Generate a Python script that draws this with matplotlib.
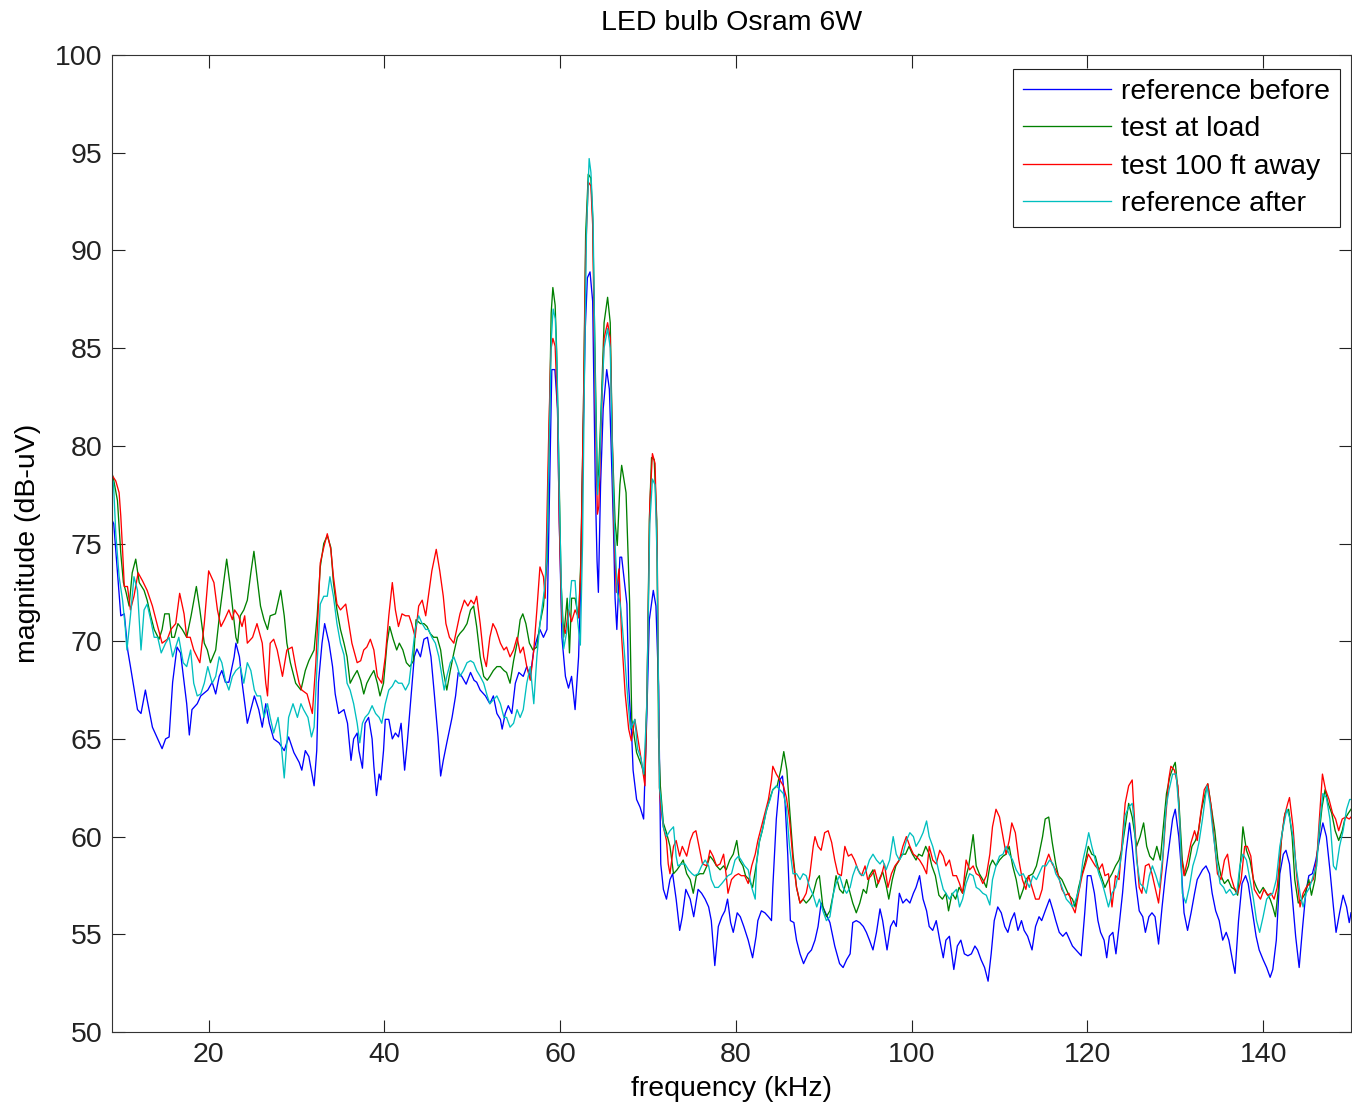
# Spectrum plot: LED bulb Osram 6W, four measurements
import matplotlib
matplotlib.use('Agg')
import matplotlib.pyplot as plt

plt.rcParams['font.family'] = ['Liberation Sans', 'DejaVu Sans']

# ---- data (kHz, dB-uV) ----
blue_khz = [9.0, 9.2, 10.0, 10.4, 10.8, 11.1, 11.9, 12.3, 12.8, 13.0, 13.6, 14.2, 14.7, 15.1, 15.5, 15.9,
            16.4, 16.8, 17.2, 17.5, 17.8, 18.1, 18.7, 19.1, 19.9, 20.4, 20.8, 21.2, 21.5, 21.9, 22.3, 22.9,
            23.1, 23.5, 23.8, 24.4, 24.8, 25.2, 25.7, 26.1, 26.5, 26.9, 27.4, 28.0, 28.6, 29.1, 29.7, 30.3,
            30.6, 31.0, 31.4, 32.0, 32.3, 32.5, 32.9, 33.2, 33.7, 34.1, 34.4, 34.8, 35.4, 35.8, 36.2, 36.5,
            36.9, 37.1, 37.5, 37.8, 38.2, 38.6, 38.8, 39.1, 39.4, 39.6, 39.9, 40.1, 40.5, 40.9, 41.25, 41.6,
            41.9, 42.3, 42.6, 43.0, 43.4, 43.7, 44.1, 44.5, 44.9, 45.3, 45.7, 46.1, 46.4, 46.7, 47.1, 47.7,
            48.1, 48.4, 48.8, 49.3, 49.8, 50.2, 50.5, 50.9, 51.5, 52.0, 52.4, 52.8, 53.2, 53.4, 53.75, 54.1,
            54.5, 54.9, 55.3, 55.8, 56.2, 56.6, 57.0, 57.35, 57.7, 58.1, 58.5, 58.8, 59.05, 59.4, 59.7, 59.9,
            60.2, 60.6, 60.95, 61.3, 61.7, 62.1, 62.3, 62.6, 62.85, 63.1, 63.4, 63.7, 64.0, 64.2, 64.35, 64.6,
            64.9, 65.3, 65.6, 65.8, 66.05, 66.25, 66.45, 66.8, 67.0, 67.6, 67.8, 68.15, 68.3, 68.7, 69.1, 69.5,
            69.85, 70.15, 70.6, 70.9, 71.2, 71.45, 71.75, 72.1, 72.5, 72.8, 73.2, 73.6, 73.9, 74.3, 74.8, 75.2,
            75.7, 76.1, 76.5, 76.9, 77.2, 77.6, 78.0, 78.4, 78.75, 79.05, 79.4, 79.7, 80.15, 80.5, 80.9, 81.4,
            81.9, 82.3, 82.5, 82.9, 83.3, 83.7, 84.05, 84.2, 84.6, 85.0, 85.3, 85.6, 85.9, 86.2, 86.6, 86.9,
            87.3, 87.7, 88.2, 88.6, 89.0, 89.35, 89.7, 90.1, 90.7, 91.25, 91.8, 92.2, 92.6, 93.0, 93.3, 93.7,
            94.1, 94.5, 94.85, 95.2, 95.6, 96.0, 96.4, 96.7, 97.2, 97.6, 97.95, 98.25, 98.6, 99.0, 99.4, 99.8,
            100.2, 100.5, 100.9, 101.3, 101.7, 102.0, 102.4, 102.8, 103.2, 103.6, 103.9, 104.3, 104.8, 105.2,
            105.6, 106.0, 106.4, 106.8, 107.2, 107.5, 107.9, 108.3, 108.7, 109.05, 109.4, 109.8, 110.2, 110.6,
            110.95, 111.3, 111.7, 112.1, 112.5, 112.8, 113.2, 113.7, 114.1, 114.5, 114.8, 115.2, 115.7, 116.1,
            116.4, 116.8, 117.2, 117.6, 118.0, 118.3, 118.7, 119.3, 119.7, 120.0, 120.4, 120.8, 121.2, 121.5,
            121.9, 122.2, 122.5, 122.9, 123.25, 123.6, 124.0, 124.4, 124.8, 125.1, 125.5, 125.9, 126.3, 126.6,
            127.0, 127.35, 127.7, 128.1, 128.5, 128.9, 129.3, 129.7, 130.0, 130.4, 130.7, 131.0, 131.4, 131.8,
            132.2, 132.5, 133.1, 133.5, 133.9, 134.2, 134.6, 135.0, 135.4, 135.8, 136.1, 136.5, 136.8, 137.2,
            137.6, 138.0, 138.3, 138.7, 139.2, 139.55, 140.0, 140.4, 140.8, 141.1, 141.5, 141.9, 142.3, 142.6,
            143.0, 143.3, 143.7, 144.1, 144.5, 144.85, 145.2, 145.6, 146.0, 146.4, 146.8, 147.2, 147.6, 148.0,
            148.3, 148.7, 149.1, 149.5, 149.8, 150.0]
blue_db = [76.2, 76.0, 71.3, 71.4, 69.5, 68.7, 66.5, 66.3, 67.5, 67.0, 65.6, 65.0, 64.5, 65.0, 65.1, 67.9,
           69.7, 69.4, 67.9, 66.8, 65.2, 66.5, 66.8, 67.2, 67.5, 67.9, 67.3, 68.2, 68.5, 67.9, 67.9, 69.2,
           69.9, 69.2, 67.9, 65.8, 66.5, 67.2, 66.5, 65.6, 66.8, 65.8, 65.0, 64.8, 64.4, 65.1, 64.3, 63.8,
           63.4, 64.4, 64.1, 62.6, 64.4, 67.9, 69.9, 70.9, 69.9, 68.7, 67.3, 66.3, 66.5, 65.8, 63.9, 65.0,
           65.3, 64.4, 63.5, 65.8, 66.1, 65.0, 63.6, 62.1, 63.2, 62.9, 64.4, 66.0, 66.0, 65.0, 65.3, 65.1,
           65.8, 63.4, 64.8, 67.0, 69.2, 69.6, 69.2, 70.1, 70.2, 69.2, 67.2, 65.1, 63.1, 63.9, 64.8, 66.1,
           67.2, 68.4, 68.2, 67.8, 68.4, 68.0, 67.9, 67.5, 67.2, 66.8, 67.2, 66.3, 66.0, 65.5, 66.3, 66.7,
           66.3, 67.85, 68.4, 68.2, 68.7, 68.2, 69.55, 70.1, 70.6, 70.2, 70.6, 78.0, 83.9, 83.9, 81.9, 76.1,
           70.2, 68.2, 67.6, 68.2, 66.5, 69.2, 72.2, 80.0, 85.9, 88.6, 88.9, 87.4, 78.0, 74.1, 72.5, 78.0,
           81.9, 83.9, 82.9, 80.0, 76.1, 72.2, 70.6, 74.3, 74.3, 71.9, 67.7, 65.1, 63.4, 61.9, 61.5, 60.9,
           66.0, 71.1, 72.6, 71.8, 67.7, 58.6, 57.3, 56.8, 57.8, 58.1, 56.8, 55.2, 55.9, 57.3, 56.8, 55.9,
           57.3, 57.1, 56.8, 56.4, 55.7, 53.4, 55.4, 55.9, 56.2, 56.8, 55.6, 55.1, 56.1, 55.9, 55.4, 54.7,
           53.8, 54.9, 55.7, 56.2, 56.1, 55.9, 55.7, 57.4, 60.9, 62.9, 63.1, 61.7, 59.1, 55.7, 55.6, 54.7,
           54.0, 53.5, 54.0, 54.2, 54.7, 55.4, 56.6, 56.2, 55.6, 54.4, 53.5, 53.3, 53.7, 54.0, 55.6, 55.7,
           55.6, 55.4, 55.1, 54.7, 54.2, 55.1, 56.3, 55.7, 54.2, 55.4, 55.7, 55.4, 57.1, 56.6, 56.8, 56.6,
           57.1, 57.4, 58.0, 56.8, 56.2, 55.4, 55.2, 55.7, 54.7, 53.8, 54.7, 54.9, 53.2, 54.4,
           54.7, 54.0, 53.9, 54.0, 54.4, 54.2, 53.7, 53.3, 52.6, 54.0, 55.7, 56.4, 56.1, 55.4,
           55.1, 55.7, 56.1, 55.2, 55.7, 55.2, 54.9, 54.2, 55.4, 55.9, 55.7, 56.2, 56.8, 56.2,
           55.7, 55.1, 54.9, 55.1, 54.7, 54.4, 54.2, 53.9, 56.1, 58.0, 58.0, 57.1, 55.7, 55.1,
           54.7, 53.8, 54.9, 55.1, 54.0, 55.4, 57.1, 59.2, 60.7, 59.5, 57.6, 56.2, 55.9, 55.1,
           55.9, 56.1, 55.9, 54.5, 56.4, 58.1, 59.5, 60.9, 61.4, 60.0, 58.3, 56.1, 55.2, 56.1,
           57.1, 57.8, 58.3, 58.5, 58.1, 57.1, 56.2, 55.7, 54.7, 55.1, 54.7, 53.7, 53.0, 55.7,
           57.6, 58.0, 57.6, 56.4, 54.9, 54.2, 53.7, 53.3, 52.8, 53.2, 54.7, 58.1, 59.1, 59.3,
           58.6, 57.0, 54.9, 53.3, 55.4, 57.1, 58.0, 58.1, 58.8, 59.8, 60.7, 60.0, 58.3, 56.4,
           55.1, 56.1, 57.0, 56.4, 55.6, 56.1]

green_khz = [9.0, 9.17, 9.62, 10.0, 10.3, 10.6, 10.95, 11.3, 11.7, 12.1, 12.65, 13.0, 13.4, 13.8, 14.35, 14.7,
             15.0, 15.5, 15.8, 16.1, 16.5, 17.0, 17.5, 18.0, 18.6, 19.0, 19.5, 19.85, 20.2, 20.8, 21.3, 21.7,
             22.05, 22.4, 22.7, 23.1, 23.3, 23.6, 24.0, 24.4, 24.8, 25.15, 25.5, 25.9, 26.3, 26.7, 27.0, 27.6,
             28.2, 28.6, 28.9, 29.3, 29.9, 30.5, 31.0, 31.4, 32.0, 32.35, 32.7, 33.1, 33.5, 33.9, 34.2, 34.6,
             35.0, 35.4, 35.75, 36.1, 36.5, 36.9, 37.3, 37.65, 38.0, 38.4, 38.8, 39.2, 39.5, 39.9, 40.3, 40.6,
             41.0, 41.4, 41.7, 42.1, 42.5, 42.9, 43.3, 43.6, 44.1, 44.5, 44.85, 45.2, 45.6, 46.0, 46.4, 46.7,
             47.1, 47.5, 47.9, 48.3, 48.6, 49.0, 49.4, 49.8, 50.15, 50.5, 50.9, 51.3, 51.7, 52.0, 52.4, 52.8,
             53.2, 53.6, 53.9, 54.3, 54.7, 55.1, 55.45, 55.75, 56.1, 56.5, 56.9, 57.35, 57.7, 58.1, 58.5, 58.8,
             58.98, 59.17, 59.43, 59.6, 59.9, 60.1, 60.4, 60.8, 61.06, 61.3, 61.7, 62.1, 62.35, 62.65, 62.9,
             63.2, 63.5, 63.7, 64.0, 64.24, 64.4, 64.66, 65.0, 65.4, 65.7, 65.95, 66.25, 66.5, 66.8, 67.0,
             67.5, 67.9, 68.15, 68.7, 69.3, 69.65, 69.9, 70.15, 70.4, 70.7, 71.0, 71.2, 71.4, 71.74, 72.1,
             72.5, 72.9, 73.3, 73.6, 74.0, 74.4, 74.8, 75.15, 75.5, 75.9, 76.3, 76.7, 77.05, 77.4, 77.8, 78.2,
             78.6, 78.9, 79.3, 79.7, 80.1, 80.4, 80.8, 81.1, 81.5, 81.9, 82.3, 82.65, 83.0, 83.4, 83.9, 84.2,
             84.7, 85.1, 85.45, 85.8, 86.1, 86.5, 86.9, 87.3, 87.65, 88.0, 88.4, 88.8, 89.2, 89.5, 89.9, 90.3,
             90.7, 91.1, 91.4, 91.8, 92.2, 92.6, 93.0, 93.3, 93.7, 94.1, 94.5, 94.85, 95.2, 95.6, 96.0, 96.4,
             96.7, 97.1, 97.4, 97.8, 98.2, 98.6, 98.9, 99.3, 99.7, 100.1, 100.5, 100.8, 101.2, 101.6, 102.0,
             102.3, 102.7, 103.1, 103.5, 103.9, 104.2, 104.6, 105.0, 105.4, 105.8, 106.1, 106.5, 107.0, 107.35,
             107.7, 108.1, 108.5, 108.9, 109.2, 109.6, 110.0, 110.4, 110.75, 111.1, 111.5, 111.9, 112.3, 112.7,
             113.0, 113.4, 113.8, 114.2, 114.5, 114.9, 115.2, 115.6, 116.0, 116.4, 116.7, 117.1, 117.5, 117.9,
             118.3, 118.6, 119.0, 119.4, 119.8, 120.1, 120.5, 120.9, 121.3, 121.7, 122.0, 122.4, 122.8, 123.2,
             123.6, 123.9, 124.3, 124.7, 125.1, 125.6, 126.0, 126.4, 126.75, 127.1, 127.5, 127.9, 128.3, 128.6,
             129.0, 129.4, 129.8, 130.0, 130.4, 130.8, 131.1, 131.5, 131.9, 132.3, 132.65, 133.0, 133.4, 133.7,
             134.1, 134.5, 134.85, 135.2, 135.6, 136.0, 136.4, 136.75, 137.1, 137.5, 137.7, 138.1, 138.5, 138.9,
             139.25, 139.6, 140.0, 140.4, 140.8, 141.1, 141.4, 141.75, 142.1, 142.5, 142.9, 143.3, 143.6, 144.0,
             144.4, 144.8, 145.2, 145.5, 145.9, 146.3, 146.7, 147.05, 147.4, 147.8, 148.2, 148.6, 149.0, 149.3,
             149.7, 150.0]
green_db = [78.6, 78.3, 77.2, 74.5, 73.0, 72.5, 71.8, 73.5, 74.2, 73.0, 72.6, 72.1, 71.3, 70.6, 70.1, 70.6,
            71.4, 71.4, 70.2, 70.2, 70.9, 70.6, 70.2, 71.3, 72.8, 71.6, 69.9, 69.55, 68.9, 69.55, 71.6, 73.0,
            74.2, 73.0, 71.8, 70.2, 69.9, 71.3, 71.6, 72.1, 73.5, 74.6, 73.3, 71.8, 71.1, 70.6, 71.3, 71.4,
            72.6, 71.3, 69.9, 68.9, 67.85, 67.5, 68.5, 69.0, 69.55, 71.3, 73.8, 75.0, 75.4, 74.8, 73.0, 71.6,
            70.6, 69.9, 69.2, 67.85, 68.2, 68.5, 68.0, 67.3, 67.85, 68.2, 68.5, 67.85, 67.2, 67.85, 69.9, 70.75,
            70.1, 69.55, 69.9, 69.55, 68.9, 68.7, 69.0, 71.1, 70.9, 70.9, 70.75, 70.4, 70.2, 70.2, 69.55, 68.5,
            67.5, 68.5, 69.4, 70.2, 70.4, 70.6, 70.9, 71.6, 71.8, 70.75, 69.2, 68.2, 68.0, 68.2, 68.5, 68.7,
            68.7, 68.5, 68.4, 67.85, 69.0, 69.9, 71.1, 71.4, 70.9, 69.9, 69.55, 69.7, 70.9, 71.8, 74.1, 81.9,
            86.8, 88.1, 87.2, 84.9, 78.0, 73.1, 70.2, 72.2, 69.4, 72.2, 72.2, 71.2, 74.1, 81.9, 90.8,
            93.9, 93.7, 91.7, 83.9, 78.0, 78.8, 81.9, 86.3, 87.6, 86.3, 80.0, 76.1, 74.9, 78.0, 79.0,
            77.6, 72.1, 66.0, 64.3, 63.6, 63.1, 67.7, 76.2, 79.4, 79.3, 76.2, 65.1, 62.6, 60.7, 60.2,
            59.5, 58.1, 58.3, 58.5, 58.8, 58.1, 57.8, 57.1, 58.0, 58.1, 58.1, 58.5, 59.0, 58.8, 58.5, 58.3,
            58.5, 58.3, 58.8, 59.1, 59.8, 58.8, 58.5, 58.0, 57.8, 57.4, 58.5, 59.7, 60.3, 61.2, 62.0, 62.4,
            62.6, 63.4, 64.35, 63.4, 61.5, 59.1, 57.4, 56.6, 56.8, 56.6, 56.8, 57.1, 57.8, 58.0, 56.4, 55.9,
            56.2, 57.1, 58.0, 57.3, 57.1, 57.8, 57.1, 56.6, 56.1, 56.6, 57.3, 57.1, 58.0, 58.3, 57.4, 57.9,
            58.2, 57.5, 56.8, 57.8, 58.5, 58.8, 59.1, 59.1, 59.5, 59.1, 58.8, 59.1, 59.0, 59.5, 59.1,
            58.5, 58.0, 57.0, 56.8, 57.1, 56.2, 57.1, 56.8, 57.4, 57.1, 57.8, 58.5, 60.1, 58.5,
            58.1, 57.8, 57.4, 58.5, 58.8, 58.5, 58.8, 59.0, 59.1, 59.5, 58.5, 57.8, 56.8, 57.3,
            57.8, 58.0, 58.1, 58.5, 59.1, 60.0, 60.9, 61.0, 59.7, 58.6, 58.0, 57.8, 57.4, 57.0,
            56.8, 56.4, 57.4, 58.1, 58.8, 59.5, 59.1, 59.0, 58.3, 57.8, 57.4, 57.8, 58.1, 58.5,
            58.8, 59.3, 60.5, 61.7, 61.0, 59.5, 60.0, 60.7, 59.5, 59.0, 58.8, 59.5, 58.8, 60.3,
            62.2, 63.1, 63.6, 63.8, 61.9, 58.8, 58.0, 58.5, 59.5, 59.8, 60.3, 61.4, 62.2, 62.7,
            61.5, 60.3, 58.8, 58.0, 57.6, 57.8, 57.4, 57.3, 57.0, 59.1, 60.5, 59.3, 58.8, 57.8,
            57.4, 57.1, 57.4, 57.1, 56.8, 56.4, 55.9, 57.4, 60.0, 61.2, 61.4, 60.0, 57.8, 56.6,
            56.8, 57.1, 57.8, 57.0, 57.8, 59.8, 61.5, 62.4, 61.7, 61.2, 60.3, 59.8, 60.3, 60.9,
            61.2, 61.4]

red_khz = [9.0, 9.43, 9.81, 10.0, 10.2, 10.4, 10.76, 11.1, 11.5, 11.97, 12.46, 13.0, 13.6, 14.2, 14.7, 15.3,
           15.7, 16.25, 16.7, 17.2, 17.5, 17.9, 18.3, 19.0, 19.5, 20.0, 20.6, 21.0, 21.4, 21.8, 22.3, 22.7,
           22.95, 23.4, 23.8, 24.1, 24.4, 25.0, 25.5, 26.1, 26.5, 26.7, 27.0, 27.4, 27.8, 28.4, 28.9, 29.5,
           29.9, 30.3, 30.6, 31.2, 31.8, 32.2, 32.7, 33.1, 33.5, 33.9, 34.2, 34.6, 35.0, 35.6, 35.95, 36.3,
           36.9, 37.3, 37.65, 38.0, 38.4, 38.8, 39.2, 39.7, 40.1, 40.5, 40.9, 41.25, 41.6, 42.0, 42.4, 42.8,
           43.1, 43.5, 43.9, 44.3, 44.7, 45.0, 45.4, 45.9, 46.3, 46.7, 47.0, 47.4, 47.9, 48.3, 48.6, 49.1,
           49.5, 49.85, 50.2, 50.5, 50.9, 51.3, 51.6, 52.0, 52.35, 52.7, 53.2, 53.6, 53.9, 54.3, 54.7, 55.1,
           55.45, 55.8, 56.2, 56.6, 57.0, 57.35, 57.7, 58.1, 58.3, 58.67, 58.94, 59.17, 59.43, 59.7, 59.9,
           60.2, 60.6, 60.95, 61.3, 61.7, 62.1, 62.35, 62.65, 62.9, 63.2, 63.5, 63.7, 64.0, 64.24, 64.4,
           64.66, 65.0, 65.4, 65.7, 65.95, 66.1, 66.4, 66.7, 67.0, 67.4, 67.8, 68.1, 68.5, 69.1, 69.65, 69.9,
           70.2, 70.5, 70.8, 71.05, 71.3, 71.45, 71.74, 72.1, 72.3, 72.5, 72.9, 73.2, 73.6, 73.9, 74.4, 74.8,
           75.15, 75.45, 75.8, 76.2, 76.7, 77.05, 77.4, 77.8, 78.2, 78.6, 78.9, 79.1, 79.5, 79.9, 80.3, 80.6,
           81.0, 81.4, 81.8, 82.2, 82.5, 82.9, 83.3, 83.7, 84.05, 84.2, 84.6, 85.0, 85.4, 85.75, 86.1, 86.5,
           86.9, 87.3, 87.65, 88.0, 88.4, 88.8, 89.0, 89.35, 89.7, 90.1, 90.5, 90.9, 91.25, 91.6, 92.0, 92.4,
           92.8, 93.15, 93.5, 93.9, 94.3, 94.7, 95.0, 95.4, 95.8, 96.2, 96.55, 96.9, 97.3, 97.7, 98.1, 98.6,
           99.0, 99.4, 99.8, 100.2, 100.5, 100.9, 101.3, 101.7, 102.0, 102.4, 102.8, 103.2, 103.6, 103.9,
           104.3, 104.7, 105.1, 105.45, 105.8, 106.2, 106.6, 107.0, 107.35, 107.7, 108.1, 108.5, 108.9, 109.2,
           109.6, 110.0, 110.4, 110.75, 111.1, 111.4, 111.8, 112.2, 112.6, 113.0, 113.3, 113.7, 114.1, 114.5,
           114.85, 115.2, 115.6, 116.0, 116.4, 116.7, 117.1, 117.5, 117.9, 118.3, 118.6, 119.0, 119.4, 119.8,
           120.1, 120.5, 120.9, 121.3, 121.7, 122.0, 122.4, 122.8, 123.2, 123.6, 123.9, 124.3, 124.7, 125.1,
           125.25, 125.6, 125.9, 126.2, 126.6, 127.0, 127.35, 127.7, 128.1, 128.5, 128.9, 129.25, 129.5, 129.9,
           130.3, 130.65, 131.0, 131.4, 131.8, 132.2, 132.5, 132.9, 133.3, 133.7, 134.1, 134.4, 134.8, 135.2,
           135.6, 135.95, 136.3, 136.7, 137.1, 137.5, 137.9, 138.2, 138.6, 139.0, 139.4, 139.7, 140.1, 140.5,
           140.9, 141.25, 141.6, 142.0, 142.4, 142.8, 143.0, 143.4, 143.8, 144.2, 144.55, 144.9, 145.3, 145.7,
           146.1, 146.4, 146.75, 147.1, 147.5, 147.9, 148.25, 148.6, 149.0, 149.4, 149.8, 150.0]
red_db = [78.5, 78.2, 77.6, 76.4, 74.7, 72.8, 72.8, 71.6, 72.3, 73.5, 73.1, 72.6, 71.8, 70.75, 69.9, 70.1,
          70.6, 70.9, 72.45, 71.4, 70.2, 70.2, 69.55, 68.9, 70.9, 73.6, 73.0, 71.6, 70.75, 71.1, 71.6, 71.1,
          71.6, 71.3, 70.75, 71.3, 69.9, 70.2, 70.9, 69.9, 67.85, 67.2, 69.9, 70.1, 69.55, 68.2, 69.55, 69.7,
          68.7, 67.85, 67.5, 67.3, 66.3, 68.9, 74.0, 74.8, 75.5, 74.7, 73.3, 71.9, 71.6, 71.9, 70.9, 69.9,
          68.9, 69.0, 69.55, 69.7, 70.1, 69.55, 68.2, 67.85, 69.2, 71.3, 73.0, 71.6, 70.75, 71.4, 71.3, 71.3,
          70.9, 70.2, 71.8, 72.1, 71.3, 72.3, 73.6, 74.7, 73.6, 72.3, 70.9, 70.2, 69.9, 70.75, 71.4, 72.1,
          71.8, 72.1, 71.9, 72.3, 70.9, 69.2, 68.7, 70.2, 70.9, 70.6, 69.9, 69.55, 69.7, 69.2, 69.55, 70.2,
          69.4, 69.7, 68.7, 68.0, 69.55, 71.6, 73.8, 73.3, 72.2, 80.0, 84.9, 85.5, 85.1, 81.9, 76.1,
          71.0, 70.4, 71.6, 71.0, 71.6, 71.2, 73.7, 81.9, 89.8, 93.5, 93.3, 91.3, 81.9, 76.5, 76.9,
          81.0, 85.5, 86.3, 85.5, 80.0, 76.1, 72.5, 73.7, 70.2, 67.3, 65.5, 64.9, 66.0, 64.3, 62.6, 67.7,
          77.0, 79.6, 79.1, 74.5, 62.5, 61.5, 60.5, 59.8, 58.6, 58.1, 59.5, 59.8, 59.0, 59.5, 59.0, 59.8,
          60.2, 60.3, 59.5, 58.6, 58.5, 59.3, 59.0, 58.5, 58.6, 59.1, 58.0, 57.1, 57.8, 58.0, 58.1, 58.0,
          58.0, 57.6, 58.5, 59.1, 59.8, 60.5, 61.2, 61.9, 62.9, 63.6, 63.2, 62.9, 62.6, 62.0, 60.9, 58.8,
          57.4, 56.6, 56.8, 57.1, 58.0, 59.5, 60.0, 59.5, 59.3, 60.2, 60.3, 59.7, 58.8, 58.1, 58.0, 59.5,
          59.0, 59.1, 58.8, 58.3, 58.0, 58.5, 57.8, 58.0, 58.3, 57.6, 58.0, 58.6, 57.4, 58.1, 58.5, 58.8,
          59.5, 60.0, 59.5, 59.1, 59.0, 58.8, 58.5, 58.1, 59.5, 58.8, 58.6, 59.3, 59.0, 58.5,
          58.8, 58.0, 58.0, 57.6, 57.1, 58.8, 58.3, 58.5, 58.1, 58.0, 57.6, 58.0, 59.1, 60.5,
          61.4, 61.0, 60.0, 59.1, 59.8, 60.7, 60.2, 58.8, 57.8, 57.3, 58.0, 57.4, 56.8, 56.8,
          57.3, 58.6, 59.1, 58.6, 58.3, 58.0, 57.3, 57.0, 57.1, 56.4, 56.1, 57.1, 58.0, 58.6,
          59.1, 58.8, 58.5, 58.3, 58.6, 58.0, 58.1, 56.4, 58.0, 57.8, 59.5, 61.7, 62.6, 62.9,
          61.7, 59.1, 57.4, 57.1, 58.5, 58.6, 58.1, 57.4, 56.6, 58.3, 60.9, 62.9, 63.6, 63.4,
          62.6, 59.1, 58.0, 58.8, 59.7, 60.3, 59.8, 61.2, 62.4, 62.7, 61.5, 60.0, 58.1, 57.8,
          58.8, 59.1, 58.0, 57.4, 57.1, 57.8, 59.5, 59.5, 59.0, 57.3, 57.0, 56.8, 57.3, 57.0,
          57.1, 56.8, 57.4, 59.5, 61.0, 61.7, 62.0, 60.5, 58.1, 56.4, 57.1, 57.4, 57.6, 57.8,
          58.8, 60.9, 63.2, 62.4, 61.9, 61.2, 60.9, 60.3, 60.9, 61.0, 60.9, 61.0]

cyan_khz = [9.0, 9.17, 9.43, 9.81, 10.2, 10.5, 10.7, 11.1, 11.5, 11.9, 12.3, 12.65, 13.0, 13.4, 13.8, 14.2,
            14.6, 15.1, 15.5, 15.9, 16.25, 16.6, 17.1, 17.5, 17.95, 18.3, 18.7, 19.1, 19.5, 19.9, 20.4, 20.8,
            21.2, 21.5, 21.9, 22.3, 22.7, 23.1, 23.6, 24.0, 24.4, 24.8, 25.2, 25.5, 25.9, 26.3, 26.7, 27.0,
            27.4, 27.9, 28.2, 28.6, 28.9, 29.1, 29.6, 30.1, 30.5, 30.8, 31.3, 31.7, 32.0, 32.35, 32.7, 33.1,
            33.5, 33.8, 34.2, 34.6, 35.0, 35.4, 35.75, 36.1, 36.5, 36.9, 37.2, 37.5, 37.8, 38.2, 38.6, 39.0,
            39.4, 39.7, 40.1, 40.5, 40.9, 41.25, 41.6, 42.0, 42.4, 42.8, 43.1, 43.5, 43.9, 44.3, 44.7, 45.0,
            45.4, 45.8, 46.2, 46.55, 46.8, 47.1, 47.5, 47.9, 48.3, 48.6, 49.0, 49.4, 49.8, 50.15, 50.5, 50.9,
            51.3, 51.7, 52.0, 52.4, 52.8, 53.2, 53.6, 53.9, 54.3, 54.7, 55.1, 55.45, 55.8, 56.2, 56.6, 57.0,
            57.35, 57.7, 58.2, 58.5, 58.8, 59.0, 59.2, 59.45, 59.65, 59.9, 60.15, 60.4, 60.8, 61.3, 61.7, 62.0,
            62.3, 62.55, 62.75, 63.0, 63.3, 63.5, 63.75, 64.0, 64.25, 64.45, 64.7, 65.0, 65.4, 65.7, 65.95,
            66.2, 66.5, 66.8, 67.0, 67.3, 67.7, 68.0, 68.5, 68.8, 69.2, 69.5, 69.85, 70.2, 70.5, 70.8, 71.05,
            71.3, 71.45, 71.74, 72.1, 72.5, 72.9, 73.2, 73.4, 73.8, 74.2, 74.6, 75.0, 75.3, 75.7, 76.1, 76.5,
            76.9, 77.2, 77.6, 78.0, 78.4, 78.75, 79.1, 79.5, 79.9, 80.3, 80.6, 81.0, 81.4, 81.8, 82.2, 82.35,
            82.7, 83.1, 83.5, 83.9, 84.2, 84.6, 85.0, 85.4, 85.75, 86.1, 86.5, 86.9, 87.3, 87.65, 88.0, 88.4,
            88.8, 89.2, 89.5, 89.9, 90.3, 90.7, 91.1, 91.4, 91.8, 92.2, 92.6, 93.0, 93.3, 93.7, 94.1, 94.5,
            94.85, 95.2, 95.6, 96.0, 96.4, 96.7, 97.1, 97.5, 97.9, 98.25, 98.6, 99.0, 99.4, 99.8, 100.2, 100.5,
            100.9, 101.3, 101.7, 102.0, 102.4, 102.8, 103.2, 103.6, 103.9, 104.3, 104.7, 105.1, 105.45, 105.8,
            106.2, 106.6, 107.0, 107.35, 107.7, 108.1, 108.5, 108.9, 109.2, 109.6, 110.0, 110.4, 110.75, 111.1,
            111.5, 111.9, 112.3, 112.7, 113.0, 113.4, 113.8, 114.2, 114.5, 114.9, 115.3, 115.7, 116.1, 116.4,
            116.8, 117.2, 117.6, 118.0, 118.3, 118.7, 119.1, 119.5, 119.85, 120.15, 120.5, 120.9, 121.3, 121.7,
            122.0, 122.4, 122.8, 123.2, 123.6, 123.9, 124.3, 124.7, 125.1, 125.3, 125.6, 126.0, 126.4, 126.7,
            127.05, 127.4, 127.8, 128.2, 128.6, 128.95, 129.3, 129.7, 130.1, 130.5, 130.8, 131.2, 131.6, 132.0,
            132.4, 132.7, 133.1, 133.6, 133.95, 134.3, 134.7, 135.1, 135.5, 135.8, 136.2, 136.6, 137.0, 137.35,
            137.7, 138.1, 138.5, 138.9, 139.25, 139.6, 140.0, 140.4, 140.8, 141.1, 141.5, 141.9, 142.3, 142.7,
            143.0, 143.4, 143.8, 144.2, 144.55, 144.9, 145.3, 145.7, 146.1, 146.4, 146.8, 147.2, 147.6, 148.0,
            148.3, 148.7, 149.1, 149.5, 149.85, 150.0]
cyan_db = [78.3, 78.1, 75.5, 73.3, 72.1, 70.75, 69.55, 71.3, 73.3, 72.6, 69.55, 71.6, 71.9, 71.1, 70.2, 70.2,
           69.4, 69.9, 70.2, 69.2, 69.7, 70.2, 68.9, 68.7, 69.55, 67.85, 67.2, 67.3, 67.85, 68.7, 67.85, 68.2,
           69.2, 68.9, 68.0, 67.5, 68.2, 68.5, 68.7, 67.85, 68.9, 68.5, 67.5, 67.2, 67.2, 66.1, 66.8, 66.1,
           65.3, 66.1, 65.0, 63.0, 64.8, 66.1, 66.8, 66.1, 66.8, 66.5, 66.1, 65.1, 65.6, 68.9, 71.9, 72.3,
           72.3, 73.3, 72.3, 70.9, 69.9, 69.3, 67.85, 67.5, 66.8, 65.8, 64.8, 65.8, 66.1, 66.3, 66.7, 66.3,
           66.1, 65.8, 66.8, 67.5, 67.7, 68.0, 67.85, 67.85, 67.5, 67.85, 69.0, 70.6, 71.3, 70.9, 70.6, 70.6,
           70.2, 69.9, 69.2, 68.2, 67.5, 68.2, 68.9, 69.2, 68.7, 68.2, 68.5, 68.9, 69.0, 68.9, 68.5, 68.2,
           67.85, 67.2, 66.8, 67.0, 67.2, 66.8, 66.1, 66.1, 65.6, 65.8, 66.5, 66.1, 66.5, 67.85, 68.7, 66.8,
           69.2, 70.9, 72.6, 74.5, 81.0, 85.5, 87.0, 86.5, 84.0, 77.5, 72.5, 69.6, 70.6, 73.1, 73.1, 71.0,
           69.8, 75.0, 83.0, 91.0, 94.7, 94.0, 91.5, 83.0, 77.5, 78.5, 82.0, 85.0, 86.0, 85.0, 79.5,
           75.5, 72.5, 72.0, 71.2, 69.5, 67.0, 65.5, 66.0, 64.5, 64.0, 63.2, 66.5, 76.0, 78.3, 78.0, 74.0,
           62.5, 62.0, 60.5, 60.0, 60.3, 60.5, 59.0, 58.5, 58.6, 58.6, 58.3, 58.1, 58.0, 58.1, 58.5, 58.8,
           58.5, 57.8, 57.4, 57.4, 57.6, 57.8, 58.0, 58.1, 58.8, 59.0, 58.8, 58.5, 58.3, 57.4, 56.8, 58.6,
           59.8, 60.5, 61.4, 61.9, 62.4, 62.6, 62.4, 62.2, 61.5, 59.5, 58.1, 58.1, 57.8, 58.1, 58.0, 57.4,
           57.0, 56.4, 56.8, 56.2, 55.7, 55.9, 57.1, 57.6, 58.0, 57.4, 57.1, 57.4, 58.0, 58.5, 58.1, 58.0,
           58.3, 58.8, 59.1, 58.8, 58.6, 58.8, 58.3, 58.8, 60.0, 59.1, 58.8, 59.1, 59.8, 60.2, 60.0, 59.5,
           59.8, 60.2, 60.8, 60.0, 59.5, 58.8, 58.0, 57.3, 57.1, 56.8, 57.1, 57.3, 56.4, 56.8,
           57.6, 58.1, 58.0, 57.4, 57.3, 57.1, 57.0, 56.5, 57.8, 58.5, 59.0, 59.1, 59.5, 59.1,
           58.8, 58.3, 58.0, 58.1, 57.8, 57.4, 58.0, 57.8, 58.1, 58.5, 58.5, 58.8, 58.6, 58.1,
           57.8, 57.3, 56.8, 56.6, 56.4, 56.8, 57.4, 58.8, 59.5, 60.2, 59.5, 58.8, 58.1, 57.6,
           57.1, 56.4, 57.1, 57.4, 58.3, 59.1, 61.1, 61.5, 61.7, 60.9, 58.8, 57.6, 57.4, 57.1,
           58.0, 58.5, 58.0, 57.4, 59.1, 61.5, 62.4, 63.2, 63.2, 60.9, 57.1, 56.6, 57.4, 58.5,
           59.1, 59.7, 60.9, 62.6, 61.7, 60.2, 58.8, 57.6, 57.4, 57.1, 57.3, 57.0, 57.1, 58.5,
           59.1, 58.8, 57.8, 56.8, 55.7, 55.1, 55.9, 56.8, 57.0, 57.1, 57.8, 59.5, 60.5, 61.4,
           61.0, 60.0, 58.3, 57.1, 56.4, 57.1, 57.4, 58.0, 58.5, 60.5, 62.2, 62.0, 60.9, 58.5,
           58.3, 59.5, 60.3, 61.4, 61.9, 61.9]

series_names = ['reference before', 'test at load', 'test 100 ft away', 'reference after']
x_ticks = [20, 40, 60, 80, 100, 120, 140]
y_ticks = [50, 55, 60, 65, 70, 75, 80, 85, 90, 95, 100]

# ---- figure ----
fig = plt.figure(figsize=(13.52, 11.10), dpi=100)
ax = fig.add_axes([112 / 1352, 78 / 1110, 1239 / 1352, 977 / 1110])

# same draw order as the original, cyan ends up on top
ax.plot(blue_khz, blue_db, color=(0, 0, 1), lw=0.95, label=series_names[0])
ax.plot(green_khz, green_db, color=(0, 0.5, 0), lw=0.95, label=series_names[1])
ax.plot(red_khz, red_db, color=(1, 0, 0), lw=0.95, label=series_names[2])
ax.plot(cyan_khz, cyan_db, color=(0, 0.75, 0.75), lw=0.95, label=series_names[3])

ax.set_xlim(9, 150)
ax.set_ylim(50, 100)
ax.set_xticks(x_ticks)
ax.set_yticks(y_ticks)
ax.tick_params(direction='in', length=9, width=0.8, top=True, right=True,
               labelsize=20.5, pad=7, colors='#222222')
for sp in ax.spines.values():
    sp.set_linewidth(0.8)
    sp.set_color('#333333')

ax.set_title('LED bulb Osram 6W', fontsize=20.5, pad=18)
ax.set_xlabel('frequency (kHz)', fontsize=20.5, labelpad=6)
ax.set_ylabel('magnitude (dB-uV)', fontsize=20.5, labelpad=10)

leg = ax.legend(loc='upper right', bbox_to_anchor=((1340 - 112) / 1239, (1032 - 69) / 977),
                borderaxespad=0, fontsize=20.5, handlelength=3.1, handletextpad=0.35,
                labelspacing=0.40, borderpad=0.35, fancybox=False, framealpha=1,
                edgecolor='#222222')
leg.get_frame().set_linewidth(0.8)

plt.savefig('out.png', dpi=100)
